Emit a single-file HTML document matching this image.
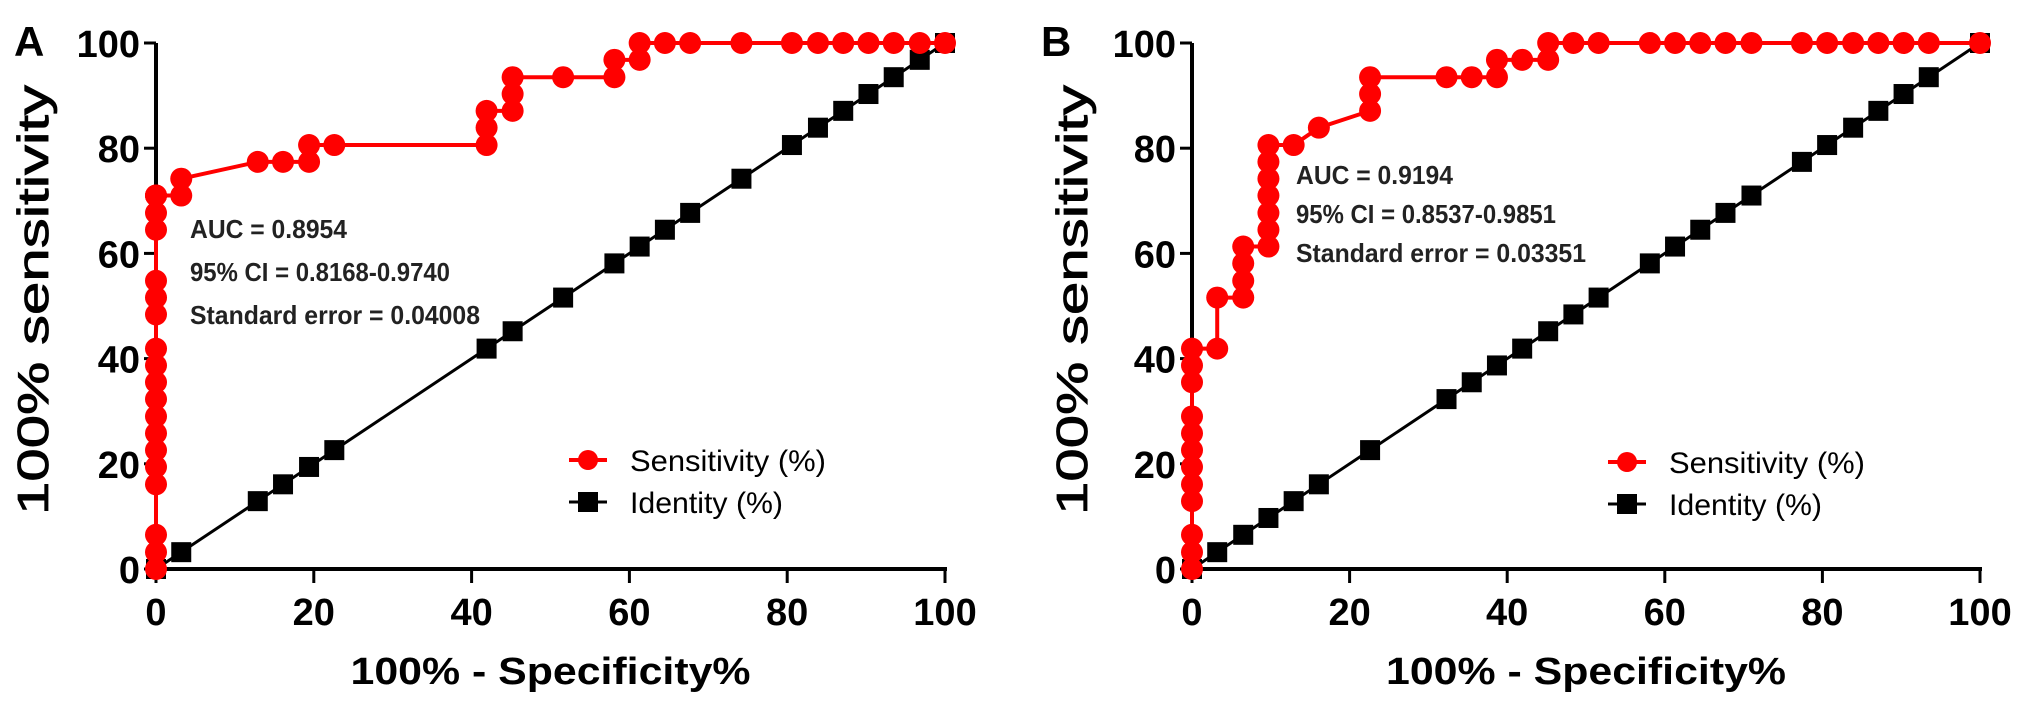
<!DOCTYPE html>
<html><head><meta charset="utf-8"><style>
html,body{margin:0;padding:0;background:#fff;}
svg{display:block;}
text{font-family:"Liberation Sans",Arial,sans-serif;}
</style></head><body>
<svg id="fig" width="2031" height="709" viewBox="0 0 2031 709" xmlns="http://www.w3.org/2000/svg"></svg>
<script>
const xTicks = [0, 20, 40, 60, 80, 100];
const yTicks = [0, 20, 40, 60, 80, 100];

// Panel A
const sensAX = [0,0,0,0,0,0,0,0,0,0,0,0,0,0,0,0,0,0,0,0,3.2,3.2,12.9,16.1,19.4,19.4,22.6,41.9,41.9,41.9,45.2,45.2,45.2,51.6,58.1,58.1,61.3,61.3,64.5,67.7,74.2,80.6,83.9,87.1,90.3,93.5,96.8,100];
const sensAY = [0,3.2,6.5,16.1,19.4,22.6,25.8,29.0,32.3,35.5,38.7,41.9,48.4,51.6,54.8,64.5,67.7,71.0,71.0,71.0,71.0,74.2,77.4,77.4,77.4,80.6,80.6,80.6,83.9,87.1,87.1,90.3,93.5,93.5,93.5,96.8,96.8,100,100,100,100,100,100,100,100,100,100,100];
const identAX = [0,3.2,12.9,16.1,19.4,22.6,41.9,45.2,51.6,58.1,61.3,64.5,67.7,74.2,80.6,83.9,87.1,90.3,93.5,96.8,100];

// Panel B
const sensBX = [0,0,0,0,0,0,0,0,0,0,0,0,3.2,3.2,6.5,6.5,6.5,6.5,9.7,9.7,9.7,9.7,9.7,9.7,9.7,12.9,16.1,22.6,22.6,22.6,32.3,35.5,38.7,38.7,41.9,45.2,45.2,48.4,51.6,58.1,61.3,64.5,67.7,71.0,77.4,80.6,83.9,87.1,90.3,93.5,100];
const sensBY = [0,3.2,6.5,12.9,16.1,19.4,22.6,25.8,29.0,35.5,38.7,41.9,41.9,51.6,51.6,54.8,58.1,61.3,61.3,64.5,67.7,71.0,74.2,77.4,80.6,80.6,83.9,87.1,90.3,93.5,93.5,93.5,93.5,96.8,96.8,96.8,100,100,100,100,100,100,100,100,100,100,100,100,100,100,100];
const identBX = [0,3.2,6.5,9.7,12.9,16.1,22.6,32.3,35.5,38.7,41.9,45.2,48.4,51.6,58.1,61.3,64.5,67.7,71.0,77.4,80.6,83.9,87.1,90.3,93.5,100];

const statsA = ["AUC = 0.8954", "95% CI = 0.8168-0.9740", "Standard error = 0.04008"];
const statsB = ["AUC = 0.9194", "95% CI = 0.8537-0.9851", "Standard error = 0.03351"];

const NS = "http://www.w3.org/2000/svg";
const svg = document.getElementById('fig');
function mk(tag, attrs, parent){
  const e = document.createElementNS(NS, tag);
  for (const k in attrs) e.setAttribute(k, attrs[k]);
  (parent||svg).appendChild(e);
  return e;
}

function panel(cfg){
  const g = mk('g', {});
  
  
  const sx = v => cfg.x0 + (cfg.x1 - cfg.x0) * v / 100;
  const sy = v => 569 - (569 - 43) * v / 100;

  const L = mk('text', {x: cfg.letterX, y: 56, 'font-size': 42, 'font-weight': 'bold', fill: '#000'}, g);
  L.textContent = cfg.id;
  
  

  const ax = mk('g', {}, g);
  
  
  mk('line', {x1: sx(0), y1: sy(0), x2: sx(100)+2, y2: sy(0), stroke: '#000', 'stroke-width': 4}, ax);
  mk('line', {x1: sx(0), y1: sy(0)+2, x2: sx(0), y2: sy(100), stroke: '#000', 'stroke-width': 4}, ax);
  yTicks.forEach(t => {
    mk('line', {x1: sx(0)-12, y1: sy(t), x2: sx(0), y2: sy(t), stroke: '#000', 'stroke-width': 3}, ax);
    const tx = mk('text', {x: sx(0)-16, y: sy(t)+14, 'font-size': 38, 'font-weight': 'bold', 'text-anchor': 'end'}, ax);
    tx.textContent = t;
    
    
  });
  xTicks.forEach(t => {
    mk('line', {x1: sx(t), y1: sy(0), x2: sx(t), y2: sy(0)+14, stroke: '#000', 'stroke-width': 3}, ax);
    const tx = mk('text', {x: sx(t), y: 625, 'font-size': 38, 'font-weight': 'bold', 'text-anchor': 'middle'}, ax);
    tx.textContent = t;
    
    
  });
  const xt = mk('text', {x: (sx(0)+sx(100))/2, y: 684, 'font-size': 38, 'font-weight': 'bold', 'text-anchor': 'middle', textLength: 400, lengthAdjust: 'spacingAndGlyphs'}, g);
  xt.textContent = '100% - Specificity%';
  
  
  const yt = mk('text', {x: 0, y: 0, 'font-size': 44, 'text-anchor': 'middle', transform: `translate(${cfg.yTitleX},300) rotate(-90)`, textLength: 430, lengthAdjust: 'spacingAndGlyphs', stroke: '#000', 'stroke-width': 0.8}, g);
  yt.textContent = '100% sensitivity';
  
  

  const ig = mk('g', {}, g);
  
  
  mk('polyline', {points: cfg.ix.map(v => sx(v)+','+sy(v)).join(' '), fill: 'none', stroke: '#000', 'stroke-width': 3}, ig);
  cfg.ix.forEach(v => {
    const r = mk('rect', {x: sx(v)-10, y: sy(v)-10, width: 20, height: 20, fill: '#000'}, ig);
    
    
  });

  const sg = mk('g', {}, g);
  
  
  mk('polyline', {points: cfg.sx.map((v,i) => sx(v)+','+sy(cfg.sy[i])).join(' '), fill: 'none', stroke: '#ff0000', 'stroke-width': 4}, sg);
  cfg.sx.forEach((v,i) => {
    const c = mk('ellipse', {cx: sx(v), cy: sy(cfg.sy[i]), rx: 11, ry: 11, fill: '#ff0000'}, sg);
    
    
  });

  cfg.stats.forEach((s,i) => {
    const t = mk('text', {x: cfg.statX, y: cfg.statY + i*cfg.statDy, 'font-size': 26, 'font-weight': 'bold', fill: '#222', textLength: cfg.statLen[i], lengthAdjust: 'spacingAndGlyphs'}, g);
    t.textContent = s;
    
    
  });

  const lg = mk('g', {}, g);
  
  
  const e1 = mk('g', {}, lg);
  
  
  mk('line', {x1: cfg.legX-19, y1: cfg.legY, x2: cfg.legX+19, y2: cfg.legY, stroke: '#ff0000', 'stroke-width': 4}, e1);
  mk('circle', {cx: cfg.legX, cy: cfg.legY, r: 10, fill: '#ff0000'}, e1);
  const t1 = mk('text', {x: cfg.legX+42, y: cfg.legY+11, 'font-size': 30, textLength: 196, lengthAdjust: 'spacingAndGlyphs'}, e1);
  t1.textContent = 'Sensitivity (%)';
  const e2 = mk('g', {}, lg);
  
  
  mk('line', {x1: cfg.legX-19, y1: cfg.legY+42, x2: cfg.legX+19, y2: cfg.legY+42, stroke: '#000', 'stroke-width': 3}, e2);
  mk('rect', {x: cfg.legX-10, y: cfg.legY+32, width: 20, height: 20, fill: '#000'}, e2);
  const t2 = mk('text', {x: cfg.legX+42, y: cfg.legY+53, 'font-size': 30, textLength: 153, lengthAdjust: 'spacingAndGlyphs'}, e2);
  t2.textContent = 'Identity (%)';
}

panel({id:'A', x0:156, x1:945, letterX:14, yTitleX:48, sx:sensAX, sy:sensAY, ix:identAX, stats:statsA, statX:190, statY:238, statDy:43, statLen:[157,260,290], legX:588, legY:460});
panel({id:'B', x0:1192, x1:1980, letterX:1041, yTitleX:1087, sx:sensBX, sy:sensBY, ix:identBX, stats:statsB, statX:1296, statY:184, statDy:39, statLen:[157,260,290], legX:1627, legY:462});
</script>
</body></html>
